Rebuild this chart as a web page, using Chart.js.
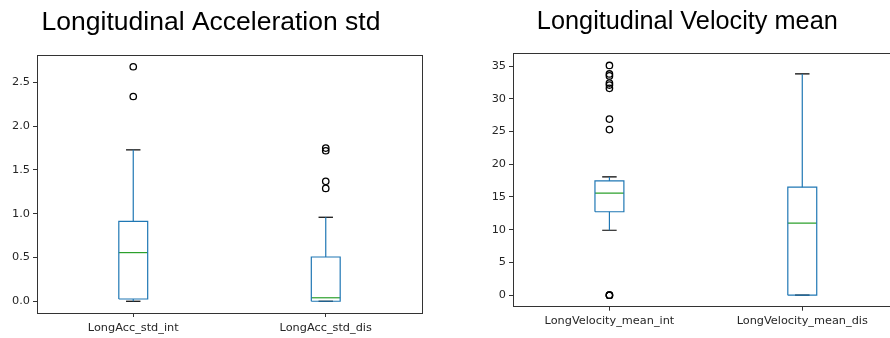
<!DOCTYPE html>
<html>
<head>
<meta charset="utf-8">
<script src="https://cdn.jsdelivr.net/npm/chart.js@4/dist/chart.umd.min.js"></script>
<style>
  html, body { margin: 0; padding: 0; background: #fff; overflow: hidden; }
  body { width: 890px; height: 338px; position: relative; }
  canvas { position: absolute; top: 0; }
  #chart-acc { left: 0; }
  #chart-vel { left: 476px; }
</style>
</head>
<body>
<canvas id="chart-acc" width="433" height="338"></canvas>
<canvas id="chart-vel" width="440" height="338"></canvas>
<script>
// ── Data: longitudinal acceleration std ──────────────────────────────────────
const accCats    = ['LongAcc_std_int', 'LongAcc_std_dis'];
const accLow     = [0.0,   0.0];
const accQ1      = [0.026, 0.0];
const accMedian  = [0.556, 0.04];
const accQ3      = [0.914, 0.506];
const accHigh    = [1.73,  0.96];
const accFliers  = [[2.34, 2.68], [1.29, 1.37, 1.72, 1.75]];
const accTicks   = [0.0, 0.5, 1.0, 1.5, 2.0, 2.5];

// ── Data: longitudinal velocity mean ─────────────────────────────────────────
const velCats    = ['LongVelocity_mean_int', 'LongVelocity_mean_dis'];
const velLow     = [9.92,  0.0];
const velQ1      = [12.75, 0.0];
const velMedian  = [15.6,  11.0];
const velQ3      = [17.45, 16.5];
const velHigh    = [18.06, 33.8];
const velFliers  = [[0, 0, 0, 25.3, 26.9, 31.6, 32.1, 32.4, 33.5, 33.8, 35.1], []];
const velTicks   = [0, 5, 10, 15, 20, 25, 30, 35];

// ── Style ────────────────────────────────────────────────────────────────────
const BOX_COLOR    = '#1f77b4';
const MEDIAN_COLOR = '#2ca02c';
const CAP_COLOR    = '#000000';
const FRAME_COLOR  = '#333333';
const TEXT_COLOR   = '#262626';
const BOX_W        = 0.15;

function seg(points, color) {
  return {
    data: points, showLine: true, borderColor: color, borderWidth: 1.2,
    pointRadius: 0, fill: false, tension: 0,
  };
}

function boxDatasets(low, q1, med, q3, high, fliers) {
  const half = BOX_W / 2, capHalf = BOX_W / 4;
  const ds = [];
  q1.forEach((_, i) => {
    const p = i + 1;
    ds.push(seg([
      { x: p - half, y: q1[i] }, { x: p + half, y: q1[i] },
      { x: p + half, y: q3[i] }, { x: p - half, y: q3[i] },
      { x: p - half, y: q1[i] },
    ], BOX_COLOR));
    ds.push(seg([{ x: p, y: q1[i] }, { x: p, y: low[i] }], BOX_COLOR));
    ds.push(seg([{ x: p, y: q3[i] }, { x: p, y: high[i] }], BOX_COLOR));
    ds.push(seg([{ x: p - capHalf, y: low[i] }, { x: p + capHalf, y: low[i] }], CAP_COLOR));
    ds.push(seg([{ x: p - capHalf, y: high[i] }, { x: p + capHalf, y: high[i] }], CAP_COLOR));
    ds.push(seg([{ x: p - half, y: med[i] }, { x: p + half, y: med[i] }], MEDIAN_COLOR));
    ds.push({
      data: fliers[i].map(v => ({ x: p, y: v })),
      pointRadius: 3.2, pointBorderWidth: 1.3,
      pointBorderColor: '#000', pointBackgroundColor: 'rgba(0,0,0,0)',
      showLine: false,
    });
  });
  return ds;
}

// Draw the four spines round the plot area
const framePlugin = {
  id: 'frame',
  afterDatasetsDraw(chart) {
    const { ctx, chartArea: a } = chart;
    ctx.save();
    ctx.strokeStyle = FRAME_COLOR;
    ctx.lineWidth = 1;
    ctx.strokeRect(Math.round(a.left) + 0.5, Math.round(a.top) + 0.5,
                   Math.round(a.right - a.left), Math.round(a.bottom - a.top));
    ctx.restore();
  }
};

function makeChart(id, opts) {
  const ctx = document.getElementById(id).getContext('2d');
  return new Chart(ctx, {
    type: 'scatter',
    data: { datasets: boxDatasets(opts.low, opts.q1, opts.med, opts.q3, opts.high, opts.fliers) },
    plugins: [framePlugin],
    options: {
      responsive: false, animation: false,
      layout: { padding: { left: 0, right: opts.padRight, top: 0, bottom: opts.padBottom } },
      plugins: {
        legend: { display: false },
        tooltip: { enabled: false },
        title: {
          display: true, text: opts.title, color: '#000',
          font: { family: 'Liberation Sans, Arial, sans-serif', size: opts.titleSize, weight: 'normal' },
          padding: { top: opts.titleTop, bottom: opts.titleGap },
        },
      },
      scales: {
        x: {
          type: 'linear', min: 0.5, max: 2.5,
          afterBuildTicks: s => { s.ticks = opts.cats.map((_, i) => ({ value: i + 1 })); },
          afterFit: s => { s.height = 25; },
          grid: { drawOnChartArea: false, drawTicks: true, tickLength: 4, tickColor: FRAME_COLOR },
          border: { display: false },
          ticks: {
            color: TEXT_COLOR, padding: 4, maxRotation: 0, autoSkip: false,
            font: { family: 'DejaVu Sans', size: 11.3 },
            callback: v => opts.cats[v - 1],
          },
        },
        y: {
          type: 'linear', min: opts.yMin, max: opts.yMax,
          afterBuildTicks: s => { s.ticks = opts.ticks.map(v => ({ value: v })); },
          afterFit: s => { s.width = 37; },
          grid: { drawOnChartArea: false, drawTicks: true, tickLength: 4, tickColor: FRAME_COLOR },
          border: { display: false },
          ticks: {
            color: TEXT_COLOR, padding: 3,
            font: { family: 'DejaVu Sans', size: 11.3 },
            callback: v => opts.fmt(v),
          },
        },
      },
    },
  });
}

makeChart('chart-acc', {
  title: 'Longitudinal Acceleration std', cats: accCats,
  low: accLow, q1: accQ1, med: accMedian, q3: accQ3, high: accHigh, fliers: accFliers,
  ticks: accTicks, yMin: -0.134, yMax: 2.814, fmt: v => v.toFixed(1),
  padRight: 11, padBottom: 0, titleSize: 26.5, titleTop: 6.3, titleGap: 16.9,
});

makeChart('chart-vel', {
  title: 'Longitudinal Velocity mean', cats: velCats,
  low: velLow, q1: velQ1, med: velMedian, q3: velQ3, high: velHigh, fliers: velFliers,
  ticks: velTicks, yMin: -1.76, yMax: 36.96, fmt: v => String(v),
  padRight: 17.3, padBottom: 6.3, titleSize: 25.3, titleTop: 7, titleGap: 15.9,
});
</script>
</body>
</html>
